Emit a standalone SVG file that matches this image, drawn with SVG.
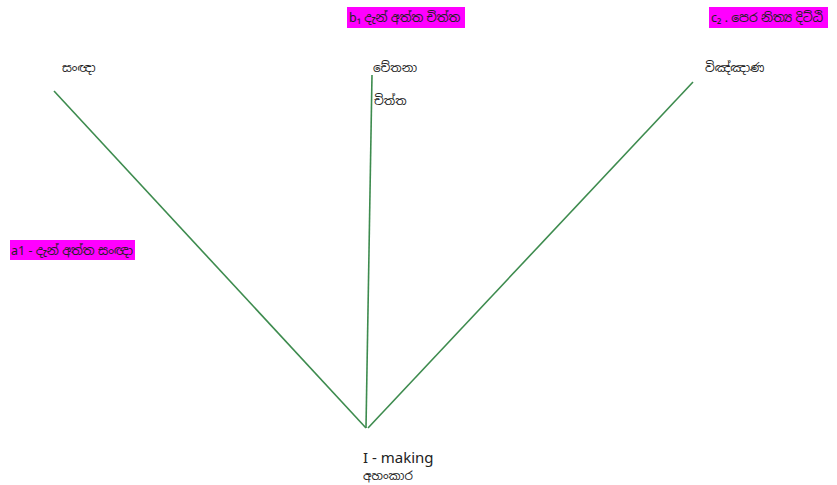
<svg xmlns="http://www.w3.org/2000/svg" width="837" height="485" viewBox="0 0 837 485">
<style>
.t{font-family:"Noto Sans","Noto Sans Sinhala","Liberation Sans",sans-serif;font-size:12px;fill:#222}
.b{font-size:12.5px}
.h{fill:#ff00ff}
.c{stroke:#3d8b4e;stroke-width:1.6;fill:none}
</style>
<rect width="837" height="485" fill="#fff"/>
<g id="connectors">
<line class="c" x1="54" y1="91" x2="366" y2="428"/>
<line class="c" x1="372" y1="75" x2="366" y2="428"/>
<line class="c" x1="693" y1="82" x2="368" y2="428"/>
</g>
<g id="b1"><rect class="h" x="347" y="7" width="118" height="21"/><text class="t b" x="349" y="22">b₁ දැන් අත්ත චිත්ත</text></g>
<g id="c2"><rect class="h" x="709" y="7" width="119" height="21"/><text class="t b" x="711" y="22">c₂ .  පෙර නිත්‍ය දිට්ඨි</text></g>
<g id="a1"><rect class="h" x="10" y="240" width="125" height="20"/><text class="t b" x="11" y="255">a1 - දැන් අත්ත සංඥා</text></g>
<g id="sanna"><text class="t" x="62" y="72">සංඥා</text></g>
<g id="cetana"><text class="t" x="373" y="72">චේතනා</text></g>
<g id="citta"><text class="t" x="374" y="105">චිත්ත</text></g>
<g id="vinnana"><text class="t" x="705" y="72">විඤ්ඤාණ</text></g>
<g id="imaking"><text class="t" x="363" y="463" style="font-size:15px">I - making</text><text class="t" x="363" y="480">අහංකාර</text></g>
</svg>
